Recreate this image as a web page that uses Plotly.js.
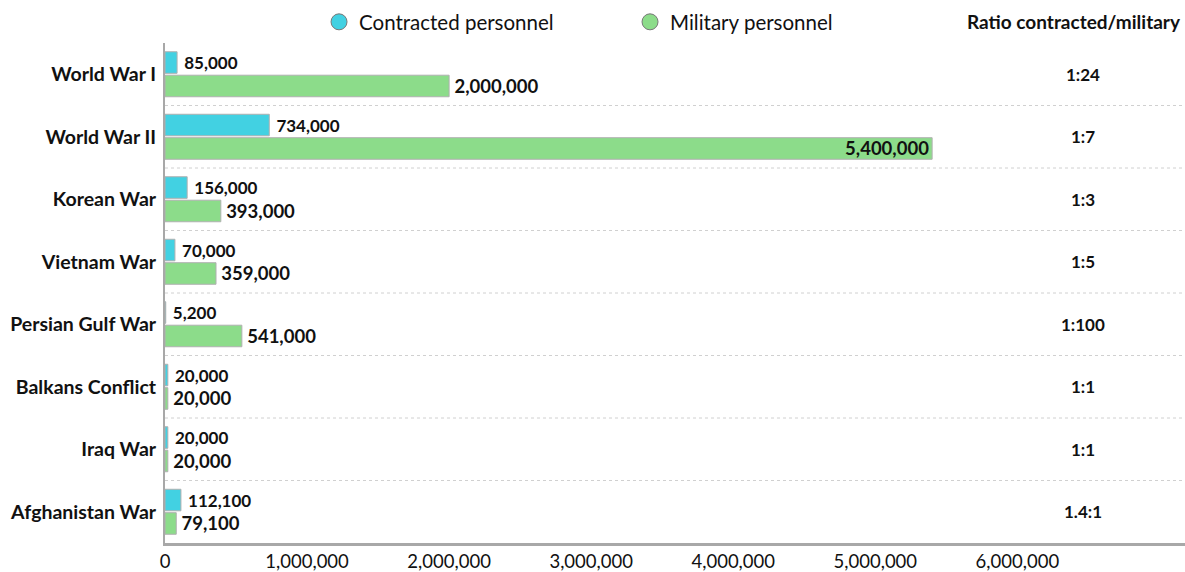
<!DOCTYPE html>
<html>
<head>
<meta charset="utf-8">
<script src="https://cdn.plot.ly/plotly-3.0.1.min.js"></script>
<style>html,body{margin:0;padding:0;background:#fff;}#chart{width:1185px;height:572px;}</style>
</head>
<body>
<div id="chart"></div>
<script>
const wars = ["World War I","World War II","Korean War","Vietnam War","Persian Gulf War","Balkans Conflict","Iraq War","Afghanistan War"];
const contracted = [85000,734000,156000,70000,5200,20000,20000,112100];
const military = [2000000,5400000,393000,359000,541000,20000,20000,79100];
const ratios = ["1:24","1:7","1:3","1:5","1:100","1:1","1:1","1.4:1"];
const xTicks = [0,1000000,2000000,3000000,4000000,5000000,6000000];

const fmt = v => v.toLocaleString('en-US');
const CYAN = '#42d1e2', GREEN = '#8cdc8a';
const labelFont = {family:'Lato, "Open Sans", sans-serif', size:17, color:'#111', weight:700};
const labelFontG = {family:'Lato, "Open Sans", sans-serif', size:18.5, color:'#111', weight:700};

const maxMil = Math.max(...military);
const traces = [
  {type:'bar', orientation:'h', y:wars, x:contracted, name:'Contracted personnel', showlegend:false,
   marker:{color:CYAN, line:{color:'#b0b0b0', width:1}},
   text:contracted.map(v => '\u00a0' + fmt(v)), textposition:'outside', textfont:labelFont, outsidetextfont:labelFont,
   constraintext:'none', cliponaxis:false, hoverinfo:'x+y'},
  {type:'bar', orientation:'h', y:wars, x:military, name:'Military personnel', showlegend:false,
   marker:{color:GREEN, line:{color:'#b0b0b0', width:1}},
   text:military.map(v => v === maxMil ? fmt(v) : '\u2009' + fmt(v)),
   textposition:military.map(v => v === maxMil ? 'inside' : 'outside'),
   insidetextanchor:'end', textfont:labelFontG, outsidetextfont:labelFontG, insidetextfont:labelFontG,
   constraintext:'none', cliponaxis:false, hoverinfo:'x+y'},
  {type:'scatter', mode:'markers', x:[null], y:[null], name:'Contracted personnel',
   marker:{color:CYAN, size:16, symbol:'circle', line:{color:'#777', width:1}}},
  {type:'scatter', mode:'markers', x:[null], y:[null], name:'Military personnel',
   marker:{color:GREEN, size:16, symbol:'circle', line:{color:'#777', width:1}}}
];

const shapes = [];
for (let i = 0; i < wars.length - 1; i++) {
  shapes.push({type:'line', xref:'paper', x0:0, x1:1, yref:'y', y0:i+0.5, y1:i+0.5,
    line:{color:'#d0d0d0', width:1, dash:'dot'}, layer:'below'});
}

const annotations = [{xref:'paper', yref:'paper', x:0.891, y:1.042, text:'Ratio contracted/military',
  showarrow:false, font:{family:'Lato, sans-serif', size:19, color:'#111', weight:700}, xanchor:'center', yanchor:'middle'}];
ratios.forEach((r, i) => annotations.push({xref:'paper', yref:'y', x:0.9, y:wars[i], text:r, showarrow:false,
  font:{family:'Lato, sans-serif', size:17, color:'#111', weight:700}, xanchor:'center', yanchor:'middle'}));

const layout = {
  width:1185, height:572,
  margin:{l:165, r:0, t:43, b:29, pad:0},
  paper_bgcolor:'#fff', plot_bgcolor:'#fff',
  font:{family:'Lato, "Open Sans", sans-serif', color:'#111'},
  barmode:'group', bargap:0.25, bargroupgap:0.08,
  xaxis:{range:[0,7180000], tickvals:xTicks, ticktext:xTicks.map(fmt), showgrid:false, zeroline:false,
    showline:true, linecolor:'#a8a8a8', linewidth:3, ticks:'', tickfont:{size:18.5, color:'#111'}, fixedrange:true},
  yaxis:{autorange:'reversed', showgrid:false, zeroline:false, showline:true, linecolor:'#a8a8a8', linewidth:2,
    ticks:'', ticklen:0, tickfont:{size:19.5, color:'#111', weight:700}, ticklabelstandoff:3, fixedrange:true},
  legend:{orientation:'h', x:0.151, y:1.042, xanchor:'left', yanchor:'middle', entrywidth:266,
    font:{size:20.5, color:'#111'}, itemsizing:'trace', bgcolor:'rgba(0,0,0,0)'},
  shapes:shapes, annotations:annotations
};
Plotly.newPlot('chart', traces, layout, {displayModeBar:false, staticPlot:true});
</script>
</body>
</html>
